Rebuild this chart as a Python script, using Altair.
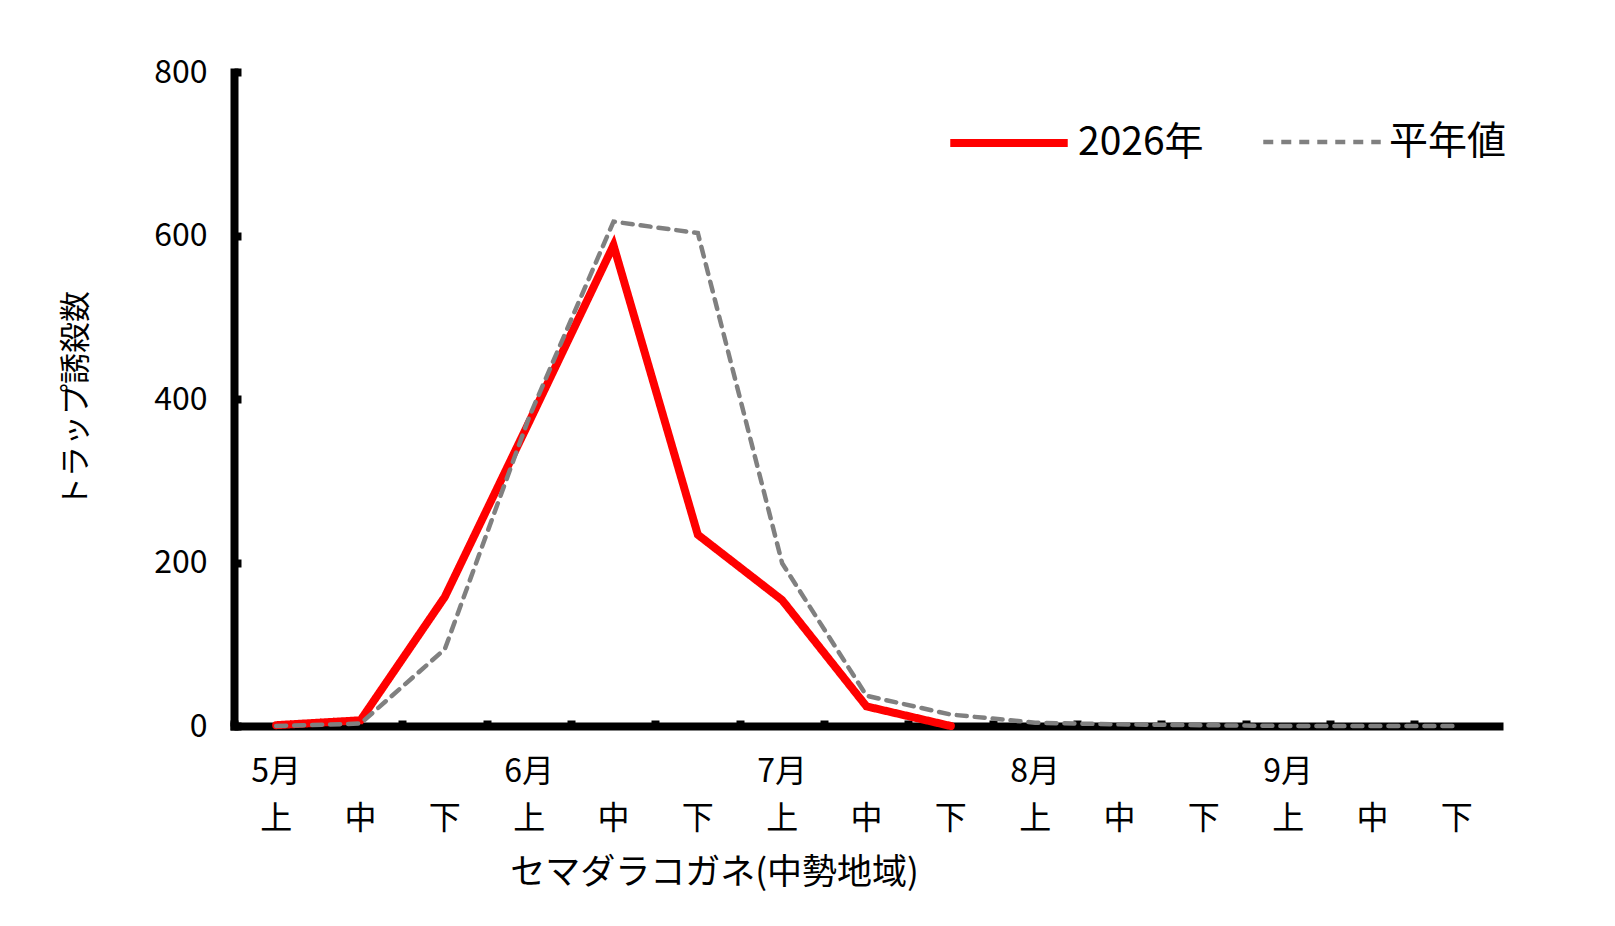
import altair as alt
import pandas as pd

# ---- data ----
months = ["5月", "6月", "7月", "8月", "9月"]
thirds = ["上", "中", "下"]
periods = [m + t for m in months for t in thirds]

series_names = ["2026年", "平年値"]
values_2026 = [1, 7, 158, 372, 588, 234, 154, 24, 0, None, None, None, None, None, None]
values_avg = [0, 3, 94, 378, 617, 603, 199, 37, 14, 4, 2, 1, 0, 0, 0]
y_ticks = [0, 200, 400, 600, 800]

rows = []
for p, v in zip(periods, values_2026):
    if v is not None:
        rows.append({"period": p, "value": v, "series": series_names[0]})
for p, v in zip(periods, values_avg):
    if v is not None:
        rows.append({"period": p, "value": v, "series": series_names[1]})
df = pd.DataFrame(rows)

W, H = 1265, 654
FONT = "Noto Sans CJK JP"

label_expr = ("slice(datum.value, 2, 3) == '上' ? [slice(datum.value, 0, 2), '上'] "
              ": ['', slice(datum.value, 2, 3)]")

xscale = alt.Scale(type="band", domain=periods, paddingInner=0, paddingOuter=0)
yscale = alt.Scale(domain=[0, 800], nice=False)


def make_legend():
    return alt.Legend(
        title=None, orient="none", direction="horizontal",
        legendX=712, legendY=8, symbolType="stroke",
        symbolSize=13800, labelFontSize=39, labelFont=FONT,
        labelColor="black", labelOffset=6, columnPadding=50)


lines = alt.Chart(df).mark_line(strokeCap="round", strokeJoin="miter").encode(
    x=alt.X("period:N", scale=xscale, bandPosition=0.5,
            axis=alt.Axis(
                title="セマダラコガネ(中勢地域)", labelExpr=label_expr,
                ticks=False, tickSize=0, labelAngle=0, labelPadding=30,
                labelBaseline="top", labelLineHeight=47, labelFontSize=32,
                labelFont=FONT, labelColor="black",
                titleFont=FONT, titleFontSize=35, titleFontWeight="normal",
                titleColor="black", titleX=480, titleY=146,
                titleBaseline="middle", titleAlign="center",
                domainColor="black", domainWidth=8, domainCap="square",
                grid=False, labelOverlap=False,
            )),
    y=alt.Y("value:Q", scale=yscale,
            axis=alt.Axis(
                title="トラップ誘殺数", values=y_ticks, ticks=False, tickSize=0,
                labelPadding=27, labelFontSize=32, labelFont=FONT,
                labelColor="black",
                titleFont=FONT, titleFontSize=31, titleFontWeight="normal",
                titleColor="black", titleX=-158, titleY=H / 2,
                titleBaseline="middle", titleAlign="center", titleAngle=270,
                domainColor="black", domainWidth=8, domainCap="square",
                grid=False,
            )),
    color=alt.Color("series:N",
                    scale=alt.Scale(domain=series_names, range=["#ff0000", "#808080"]),
                    legend=make_legend()),
    strokeDash=alt.StrokeDash("series:N",
                              scale=alt.Scale(domain=series_names, range=[[1, 0], [10, 8]]),
                              legend=make_legend()),
    strokeWidth=alt.StrokeWidth("series:N",
                                scale=alt.Scale(domain=series_names, range=[8, 4.5]),
                                legend=make_legend()),
)

# invisible layer that carries the inward-pointing tick marks
ticks_layer = alt.Chart(df).mark_line(opacity=0).encode(
    x=alt.X("period:N", scale=xscale, bandPosition=0.5,
            axis=alt.Axis(orient="top", offset=-H, labels=False, domain=False,
                          title=None, ticks=True, tickSize=6, tickWidth=8,
                          tickColor="black", bandPosition=0, grid=False)),
    y=alt.Y("value:Q", scale=yscale,
            axis=alt.Axis(orient="right", offset=-W, labels=False, domain=False,
                          title=None, values=y_ticks, ticks=True, tickSize=7,
                          tickWidth=8, tickColor="black", grid=False)),
)

chart = alt.layer(ticks_layer, lines).resolve_axis(
    x="independent", y="independent"
).properties(
    width=W, height=H,
    background="white",
    autosize=alt.AutoSizeParams(type="none"),
    padding={"left": 226, "top": 64, "right": 100, "bottom": 190},
).configure_view(stroke="transparent", strokeWidth=0)

chart.save("out.html", embed_options={"renderer": "svg", "actions": False})
